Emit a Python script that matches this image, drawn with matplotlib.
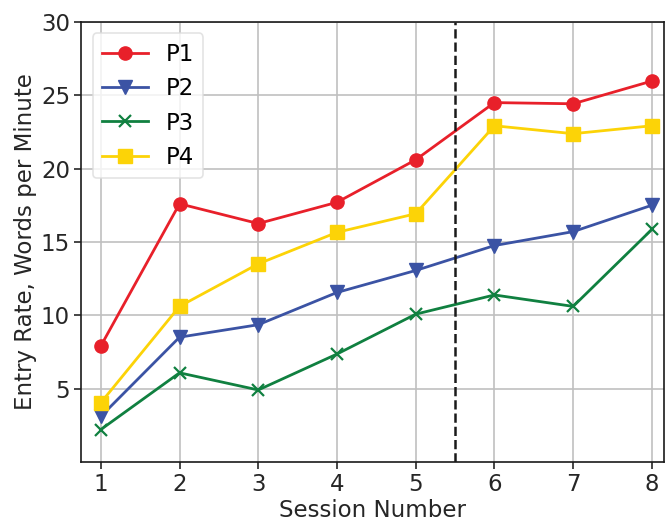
import matplotlib
matplotlib.use("Agg")
import matplotlib.pyplot as plt

sessions = [1, 2, 3, 4, 5, 6, 7, 8]
p1 = [7.9, 17.6, 16.25, 17.7, 20.6, 24.5, 24.42, 25.97]
p2 = [3.1, 8.5, 9.35, 11.55, 13.05, 14.75, 15.7, 17.5]
p3 = [2.2, 6.07, 4.9, 7.35, 10.07, 11.38, 10.6, 15.85]
p4 = [4.03, 10.6, 13.5, 15.65, 16.92, 22.92, 22.38, 22.92]
yticks = [5, 10, 15, 20, 25, 30]

FS = 16.5
plt.rcParams['font.family'] = ['DejaVu Sans']
plt.rcParams['font.size'] = FS

fig, ax = plt.subplots(figsize=(6.65, 5.23), dpi=100)
fig.subplots_adjust(left=0.122, right=0.998, top=0.958, bottom=0.117)

ax.grid(True, color='#c0c0c0', linewidth=1.2)
ax.set_axisbelow(True)

ax.plot(sessions, p1, color='#e8202a', marker='o', markersize=9.5, linewidth=2, label='P1')
ax.plot(sessions, p2, color='#3b53a4', marker='v', markersize=9.5, linewidth=2, label='P2')
ax.plot(sessions, p3, color='#108040', marker='x', markersize=8.5, markeredgewidth=1.6, linewidth=2, label='P3')
ax.plot(sessions, p4, color='#fcd307', marker='s', markersize=9.5, linewidth=2, label='P4')

ax.axvline(5.5, color='#1a1a1a', linestyle='--', linewidth=1.8)

ax.set_xlim(0.75, 8.15)
ax.set_ylim(0, 30)
ax.set_xticks(sessions)
ax.set_yticks(yticks)
ax.tick_params(labelsize=FS, length=5, width=1.2, colors='#262626', pad=3)
for s in ax.spines.values():
    s.set_color('#1a1a1a')
    s.set_linewidth(1.2)

ax.set_xlabel('Session Number', fontsize=FS, color='#262626', labelpad=2)
ax.set_ylabel('Entry Rate, Words per Minute', fontsize=FS, color='#262626', labelpad=3)

leg = ax.legend(loc='upper left', fontsize=FS, frameon=True, fancybox=True)
leg.get_frame().set_edgecolor('#dddddd')
leg.get_frame().set_linewidth(1.2)

fig.savefig('out.png', dpi=100)
